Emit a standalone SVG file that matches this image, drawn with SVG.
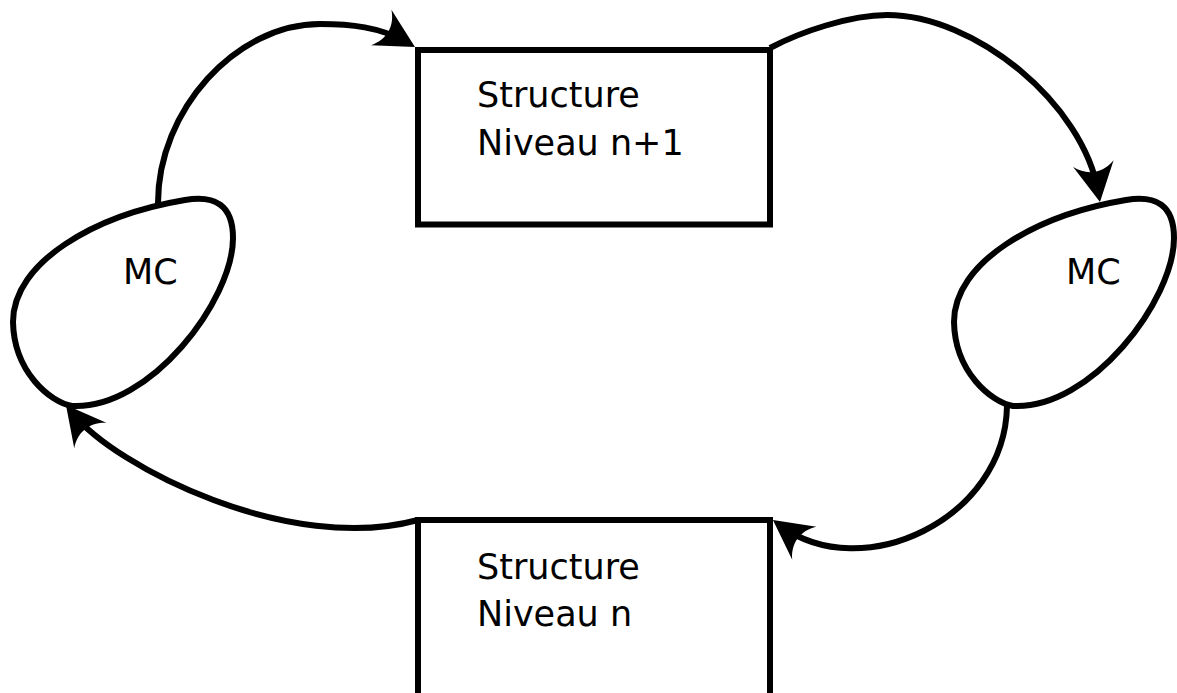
<svg xmlns="http://www.w3.org/2000/svg" width="1177" height="693" viewBox="0 0 1177 693">
<style>
.shape{fill:#fff;stroke:#000;stroke-width:6}
.conn{fill:none;stroke:#000;stroke-width:6}
.lbl{font-family:"DejaVu Sans",sans-serif;font-size:35px;fill:#000}
</style>
<defs>
<marker id="arrow" markerUnits="userSpaceOnUse" viewBox="-30 -22 42 44" refX="0" refY="0" markerWidth="42" markerHeight="44" orient="auto" overflow="visible">
<path d="M10,0 L-29,-20.5 C-18,-8 -18,8 -29,20.5 Z" fill="#000"/>
</marker>
<path id="blob" d="M72,406 C50,402 14,372 13,322 C13,262 95,215 185,200 C215,195 233,205 233,238 C233,300 150,410 72,406 Z"/>
</defs>
<rect width="1177" height="693" fill="#fff"/>
<g id="connectors">
<path class="conn" d="M158,203 C158,110.4 235.8,24 320,24 C350,24 380.3,27 406.3,42" marker-end="url(#arrow)"/>
<path class="conn" d="M770,48 C800,32 850,15 887,15 C975,15 1083,103.4 1098.3,192.2" marker-end="url(#arrow)"/>
<path class="conn" d="M1007,406 C1005,520 861.6,585.2 781,526" marker-end="url(#arrow)"/>
<path class="conn" d="M418,520 C290,555 115.8,467.5 72.2,412.8" marker-end="url(#arrow)"/>
</g>
<g id="mc-left">
<use href="#blob" class="shape"/>
<text class="lbl" x="123" y="284">MC</text>
</g>
<g id="mc-right">
<use href="#blob" class="shape" transform="translate(941,0)"/>
<text class="lbl" x="1066" y="284">MC</text>
</g>
<g id="structure-n1">
<rect class="shape" x="418" y="50" width="352" height="174.5"/>
<text class="lbl" x="477" y="107">Structure</text>
<text class="lbl" x="477" y="155">Niveau n+1</text>
</g>
<g id="structure-n">
<rect class="shape" x="418" y="520" width="352" height="200"/>
<text class="lbl" x="477" y="579">Structure</text>
<text class="lbl" x="477" y="626">Niveau n</text>
</g>
</svg>
